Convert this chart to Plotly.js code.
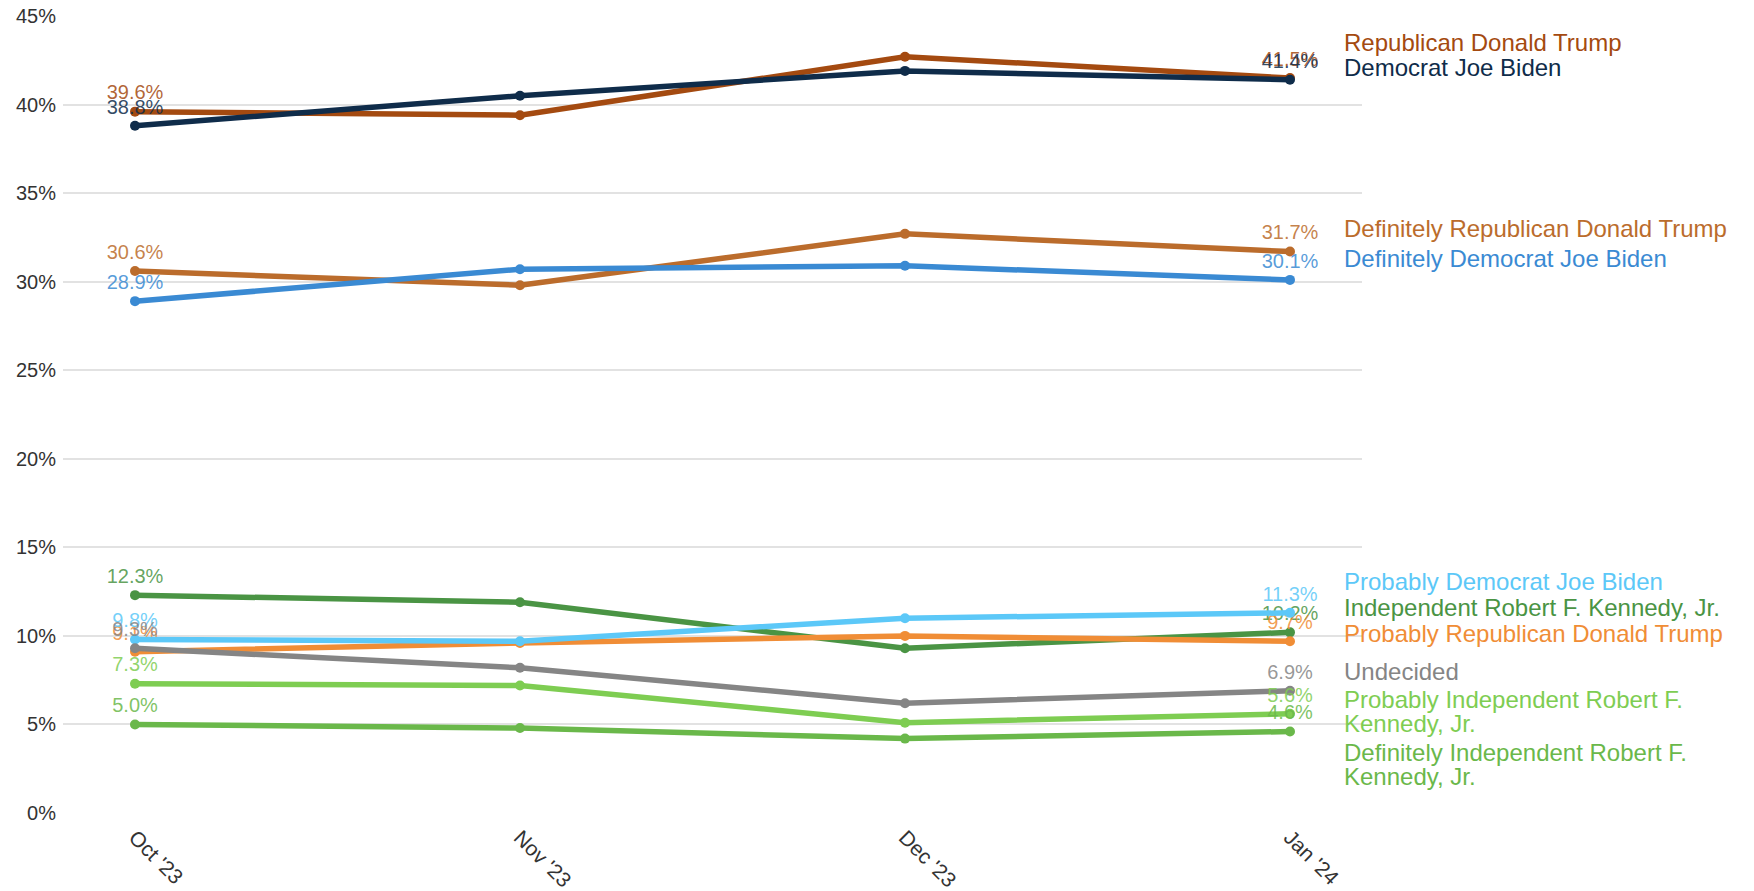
<!DOCTYPE html>
<html>
<head>
<meta charset="utf-8">
<script src="https://cdn.plot.ly/plotly-3.0.1.min.js"></script>
<style>html,body{margin:0;padding:0;background:#fff;}#chart{width:1754px;height:891px;}</style>
</head>
<body>
<div id="chart"></div>
<script>
// ---- data ----
const months = ["Oct '23", "Nov '23", "Dec '23", "Jan '24"];
const trump      = [39.6, 39.4, 42.7, 41.5];
const biden      = [38.8, 40.5, 41.9, 41.4];
const defTrump   = [30.6, 29.8, 32.7, 31.7];
const defBiden   = [28.9, 30.7, 30.9, 30.1];
const probBiden  = [9.8, 9.7, 11.0, 11.3];
const rfk        = [12.3, 11.9, 9.3, 10.2];
const probTrump  = [9.1, 9.6, 10.0, 9.7];
const undecided  = [9.3, 8.2, 6.2, 6.9];
const probRfk    = [7.3, 7.2, 5.1, 5.6];
const defRfk     = [5.0, 4.8, 4.2, 4.6];
const yTickVals  = [0, 5, 10, 15, 20, 25, 30, 35, 40, 45];

// ---- series (draw order bottom -> top) ----
const series = [
  {name: "Republican Donald Trump", values: trump, color: "#a44a10", lines: ["Republican Donald Trump"], shift: [35]},
  {name: "Democrat Joe Biden", values: biden, color: "#0f2c4a", lines: ["Democrat Joe Biden"], shift: [12]},
  {name: "Definitely Republican Donald Trump", values: defTrump, color: "#bb6c2c", lines: ["Definitely Republican Donald Trump"], shift: [23]},
  {name: "Definitely Democrat Joe Biden", values: defBiden, color: "#3a8ad3", lines: ["Definitely Democrat Joe Biden"], shift: [21]},
  {name: "Independent Robert F. Kennedy, Jr.", values: rfk, color: "#4a9444", lines: ["Independent Robert F. Kennedy, Jr."], shift: [25]},
  {name: "Probably Republican Donald Trump", values: probTrump, color: "#f08d36", lines: ["Probably Republican Donald Trump"], shift: [8]},
  {name: "Probably Democrat Joe Biden", values: probBiden, color: "#5cc8f8", lines: ["Probably Democrat Joe Biden"], shift: [31]},
  {name: "Undecided", values: undecided, color: "#858585", lines: ["Undecided"], shift: [19]},
  {name: "Probably Independent Robert F. Kennedy, Jr.", values: probRfk, color: "#7ecd52", lines: ["Probably Independent Robert F.", "Kennedy, Jr."], shift: [14, -10]},
  {name: "Definitely Independent Robert F. Kennedy, Jr.", values: defRfk, color: "#6ab84a", lines: ["Definitely Independent Robert F.", "Kennedy, Jr."], shift: [-21, -45]}
];

const FONT = "Liberation Sans, Arial, sans-serif";
function hexA(hex, a) {
  const r = parseInt(hex.slice(1,3),16), g = parseInt(hex.slice(3,5),16), b = parseInt(hex.slice(5,7),16);
  return `rgba(${r},${g},${b},${a})`;
}
const fmt = v => v.toFixed(1) + "%";

const traces = series.map(s => ({
  type: "scatter",
  mode: "lines+markers+text",
  x: months,
  y: s.values,
  name: s.name,
  line: {color: s.color, width: 5.5},
  marker: {color: s.color, size: 10},
  text: s.values.map((v, i) => (i === 0 || i === s.values.length - 1) ? fmt(v) : ""),
  textposition: "top center",
  textfont: {family: FONT, size: 20, color: hexA(s.color, 0.85)},
  cliponaxis: false,
  hoverinfo: "x+y+name"
}));

const annotations = [];
series.forEach(s => {
  const last = s.values[s.values.length - 1];
  s.lines.forEach((ln, k) => {
    annotations.push({
      xref: "x", yref: "y",
      x: months[months.length - 1], y: last,
      text: ln, showarrow: false,
      xanchor: "left", yanchor: "middle",
      xshift: 52, yshift: s.shift[k],
      font: {family: FONT, size: 24, color: s.color}
    });
  });
});

const layout = {
  width: 1754, height: 891,
  margin: {l: 63, r: 392, t: 16, b: 78},
  paper_bgcolor: "#ffffff",
  plot_bgcolor: "#ffffff",
  showlegend: false,
  xaxis: {
    type: "category",
    range: [-0.187, 3.187],
    showgrid: false, zeroline: false, showline: false,
    ticks: "",
    tickangle: 45,
    ticklabelstandoff: 7,
    tickfont: {family: FONT, size: 21, color: "#333333"}
  },
  yaxis: {
    range: [0, 45],
    tickvals: yTickVals,
    ticktext: yTickVals.map(v => v + "%"),
    showgrid: true, gridcolor: "#e2e2e2", gridwidth: 2,
    zeroline: false, showline: false,
    ticks: "",
    ticklabelstandoff: 6,
    tickfont: {family: FONT, size: 20, color: "#333333"}
  },
  annotations: annotations
};

Plotly.newPlot("chart", traces, layout, {displayModeBar: false, staticPlot: true});
</script>
</body>
</html>
